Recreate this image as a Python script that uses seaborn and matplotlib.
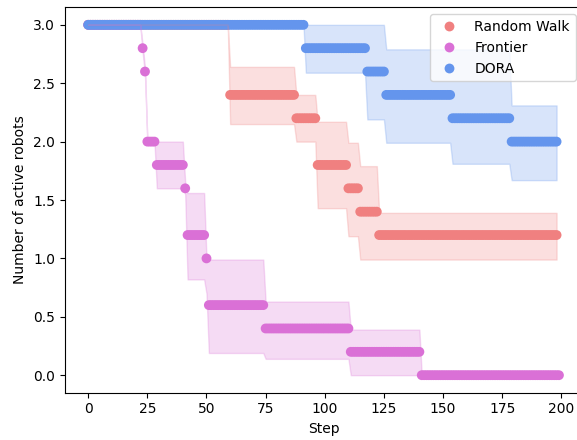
import matplotlib
matplotlib.use('Agg')
import matplotlib.pyplot as plt
import seaborn as sns
import numpy as np
import pandas as pd

methods = ['Random Walk', 'Frontier', 'DORA']
colors = ['lightcoral', 'orchid', 'cornflowerblue']
n_steps = {'Random Walk': 199, 'Frontier': 200, 'DORA': 199}

# piecewise-constant readings: first step of each level, mean, band low, band high
rw_start = [0, 60, 88, 97, 110, 115, 123]
rw_mean = [3.0, 2.4, 2.2, 1.8, 1.6, 1.4, 1.2]
rw_low = [3.0, 2.15, 2.0, 1.43, 1.19, 0.99, 0.99]
rw_high = [3.0, 2.64, 2.4, 2.17, 1.99, 1.79, 1.39]

fr_start = [0, 23, 24, 25, 29, 41, 42, 50, 51, 75, 111, 141]
fr_mean = [3.0, 2.8, 2.6, 2.0, 1.8, 1.6, 1.2, 1.0, 0.6, 0.4, 0.2, 0.0]
fr_low = [3.0, 2.77, 2.57, 2.0, 1.6, 1.55, 0.82, 0.7, 0.19, 0.14, 0.0, 0.0]
fr_high = [3.0, 2.83, 2.63, 2.0, 2.0, 1.65, 1.56, 1.0, 0.99, 0.63, 0.39, 0.0]

dora_start = [0, 92, 118, 126, 154, 179]
dora_mean = [3.0, 2.8, 2.6, 2.4, 2.2, 2.0]
dora_low = [3.0, 2.59, 2.19, 1.99, 1.81, 1.67]
dora_high = [3.0, 3.0, 3.0, 2.79, 2.79, 2.31]

segments = {
    'Random Walk': (rw_start, rw_mean, rw_low, rw_high),
    'Frontier': (fr_start, fr_mean, fr_low, fr_high),
    'DORA': (dora_start, dora_mean, dora_low, dora_high),
}


def expand(starts, vals, n):
    reps = np.diff(list(starts) + [n])
    return np.repeat(vals, reps)


frames = []
bands = {}
for m in methods:
    st, mu, lo, hi = segments[m]
    n = n_steps[m]
    steps = np.arange(n)
    frames.append(pd.DataFrame({'Step': steps, 'active': expand(st, mu, n), 'Method': m}))
    bands[m] = (steps, expand(st, lo, n), expand(st, hi, n))
df = pd.concat(frames, ignore_index=True)

fig = plt.figure(figsize=(5.77, 4.40), dpi=100)
ax = fig.add_axes([0.1121, 0.1075, 0.8974, 0.8759])

sns.scatterplot(data=df, x='Step', y='active', hue='Method', hue_order=methods,
                palette=colors, s=50, linewidth=0, ax=ax)
for m, c in zip(methods, colors):
    steps, lo, hi = bands[m]
    ax.fill_between(steps, lo, hi, color=c, alpha=0.25)

ax.set_xlabel('Step')
ax.set_ylabel('Number of active robots')
ax.set_xlim(-9.95, 208.95)
ax.set_ylim(-0.15, 3.15)
sns.move_legend(ax, 'upper right', title=None)

plt.savefig('out.png', dpi=100)
